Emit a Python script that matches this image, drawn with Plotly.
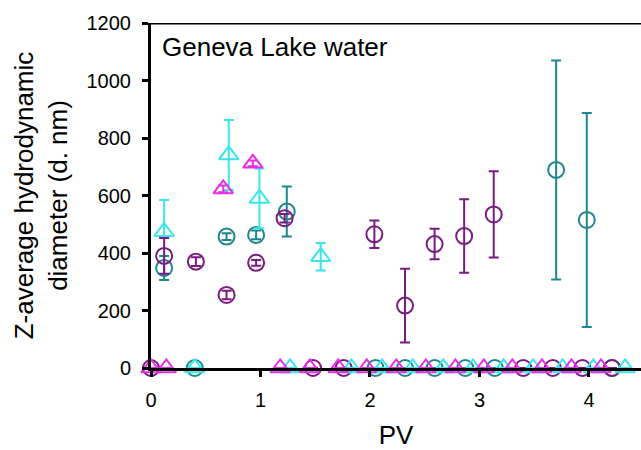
import plotly.graph_objects as go

# ---- data ----
purple_x = [0, 0.12, 0.41, 0.69, 0.96, 1.22, 1.48, 1.76, 2.04, 2.32, 2.59, 2.86, 3.13, 3.40, 3.67, 3.94, 4.21]
purple_y = [0, 390, 370, 254, 366, 521, 0, 0, 465, 217, 431, 459, 534, 0, 0, 0, 0]
purple_err = [0, 62, 15, 15, 10, 15, 0, 0, 48, 128, 53, 128, 150, 0, 0, 0, 0]

teal_x = [0.12, 0.40, 0.69, 0.96, 1.24, 2.05, 2.32, 2.59, 2.87, 3.14, 3.70, 3.98, 4.21]
teal_y = [348, 0, 457, 463, 544, 0, 0, 0, 0, 0, 689, 515, 0]
teal_err = [42, 0, 12, 15, 87, 0, 0, 0, 0, 0, 381, 372, 0]

cyan_x = [0.12, 0.40, 0.71, 0.99, 1.27, 1.55, 1.83, 2.11, 2.39, 2.67, 2.94, 3.22, 3.49, 3.76, 4.04, 4.33]
cyan_y = [474, 0, 741, 590, 0, 387, 0, 0, 0, 0, 0, 0, 0, 0, 0, 0]
cyan_err_plus = [110, 0, 122, 104, 0, 48, 0, 0, 0, 0, 0, 0, 0, 0, 0, 0]
cyan_err_minus = [15, 0, 122, 104, 0, 48, 0, 0, 0, 0, 0, 0, 0, 0, 0, 0]

magenta_x = [0, 0.14, 0.66, 0.93, 1.18, 1.45, 1.71, 1.97, 2.24, 2.51, 2.78, 3.04, 3.30, 3.57, 3.84, 4.11]
magenta_y = [0, 0, 623, 712, 0, 0, 0, 0, 0, 0, 0, 0, 0, 0, 0, 0]
magenta_err = [0, 0, 12, 10, 0, 0, 0, 0, 0, 0, 0, 0, 0, 0, 0, 0]

y_ticks = [0, 200, 400, 600, 800, 1000, 1200]
x_ticks = [0, 1, 2, 3, 4]

TEAL = "#1e878b"
PURPLE = "#7a1a82"
CYAN = "#38e6ec"
MAGENTA = "#e52ee6"
FONT = "Liberation Sans, Arial, sans-serif"

fig = go.Figure()


def add(x, y, ep, em, color, symbol, size):
    fig.add_trace(go.Scatter(
        x=x, y=y, mode="markers", cliponaxis=False, showlegend=False,
        marker=dict(symbol=symbol, size=size, color=color,
                    line=dict(color=color, width=2)),
        error_y=dict(type="data", array=ep, arrayminus=em, symmetric=False,
                     color=color, thickness=2, width=5),
    ))


add(teal_x, teal_y, teal_err, teal_err, TEAL, "circle-open", 16)
add(purple_x, purple_y, purple_err, purple_err, PURPLE, "circle-open", 16)
add(cyan_x, cyan_y, cyan_err_plus, cyan_err_minus, CYAN, "triangle-up-open", 17)
add(magenta_x, magenta_y, magenta_err, magenta_err, MAGENTA, "triangle-up-open", 17)

# top frame line
fig.add_shape(type="line", xref="paper", yref="y", x0=0, x1=1, y0=1200, y1=1200,
              line=dict(color="black", width=3), layer="above")

fig.add_annotation(text="Geneva Lake water", xref="paper", yref="paper",
                   x=0.018, y=0.93, xanchor="left", yanchor="middle",
                   showarrow=False, font=dict(family=FONT, size=26, color="black"))

fig.update_layout(
    width=641, height=450,
    margin=dict(l=151, r=0, t=23, b=82),
    paper_bgcolor="white", plot_bgcolor="white",
    font=dict(family=FONT, color="black"),
    xaxis=dict(
        range=[0, 4.475], tickvals=x_ticks, ticktext=[str(v) for v in x_ticks],
        showgrid=False, zeroline=False, showline=True, linecolor="black", linewidth=3,
        ticks="outside", ticklen=6, tickwidth=2.5, tickcolor="black",
        tickfont=dict(family=FONT, size=20), ticklabelstandoff=6,
        title=dict(text="PV", font=dict(family=FONT, size=26), standoff=16),
    ),
    yaxis=dict(
        range=[0, 1200], tickvals=y_ticks, ticktext=[str(v) for v in y_ticks],
        showgrid=False, zeroline=False, showline=True, linecolor="black", linewidth=3,
        ticks="outside", ticklen=6, tickwidth=2.5, tickcolor="black",
        tickfont=dict(family=FONT, size=20), ticklabelstandoff=7,
        title=dict(text="Z-average hydrodynamic<br>diameter (d. nm)",
                   font=dict(family=FONT, size=26), standoff=12),
    ),
)

fig.write_html("out.html")
